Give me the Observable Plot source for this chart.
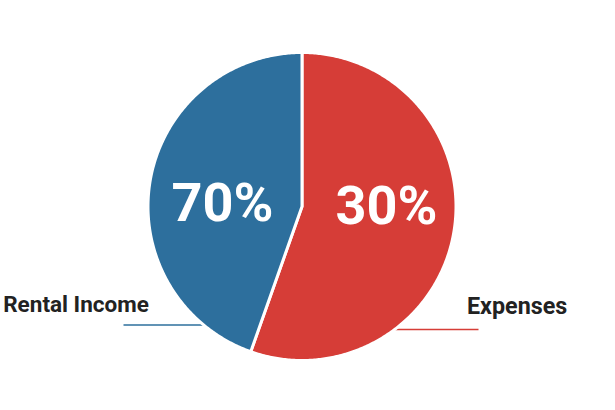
<!DOCTYPE html>
<html><head><meta charset="utf-8">
<script src="https://cdn.jsdelivr.net/npm/d3@7"></script>
<script src="https://cdn.jsdelivr.net/npm/@observablehq/plot@0.6"></script>
<style>body{margin:0;background:#fff}</style>
</head><body><div id="chart"></div>
<script>
// Data
const categories = ["Expenses", "Rental Income"];
const sliceShares = [55.4, 44.6];          // visual slice sizes (clockwise from 12 o'clock)
const valueLabels = ["30%", "70%"];        // printed labels
const colors = ["#d63d37", "#2d6f9d"];

// Layout (pixels, relative to pie centre)
const W = 615, H = 410, cx = 301.5, cy = 206, R = 154;

const pie = d3.pie().sort(null).value(d => d)(sliceShares);
const pts = [];
pie.forEach((p, i) => {
  pts.push({cat: categories[i], x: 0, y: 0});
  const n = Math.ceil((p.endAngle - p.startAngle) / 0.01);
  for (let k = 0; k <= n; k++) {
    const a = p.startAngle + (p.endAngle - p.startAngle) * k / n;
    pts.push({cat: categories[i], x: R * Math.sin(a), y: -R * Math.cos(a)});
  }
});

const valueText = [
  {t: valueLabels[0], x: 84.5, y: 0},
  {t: valueLabels[1], x: -79.5, y: -3}
];
const legendText = [
  {t: categories[1], x: -298.8, y: 105, size: 22.5},
  {t: categories[0], x: 165, y: 107.3, size: 23.3}
];
const leaders = [
  {cat: categories[1], x1: -178.5, x2: -90, y: 118.5},
  {cat: categories[0], x1: 88, x2: 176.5, y: 123}
];

const chart = Plot.plot({
  width: W, height: H,
  margin: 0,
  x: {domain: [-cx, W - cx], range: [0, W], axis: null},
  y: {domain: [-cy, H - cy], range: [0, H], axis: null},
  color: {domain: categories, range: colors},
  style: {fontFamily: "Roboto, sans-serif", background: "#fff"},
  marks: [
    Plot.link(leaders, {x1: "x1", x2: "x2", y1: "y", y2: "y", stroke: d => d.cat, strokeWidth: 1.6}),
    Plot.line(pts, {x: "x", y: "y", z: "cat", fill: "cat", stroke: "white", strokeWidth: 3, strokeLinejoin: "round", curve: "linear-closed"}),
    Plot.text(valueText, {x: "x", y: "y", text: "t", fill: "white", fontSize: 54, fontWeight: 700}),
    ...legendText.map(d => Plot.text([d], {x: "x", y: "y", text: "t", textAnchor: "start", lineAnchor: "bottom", fill: "#222", fontSize: d.size, fontWeight: 700}))
  ]
});
document.getElementById("chart").append(chart);
</script>
</body></html>
